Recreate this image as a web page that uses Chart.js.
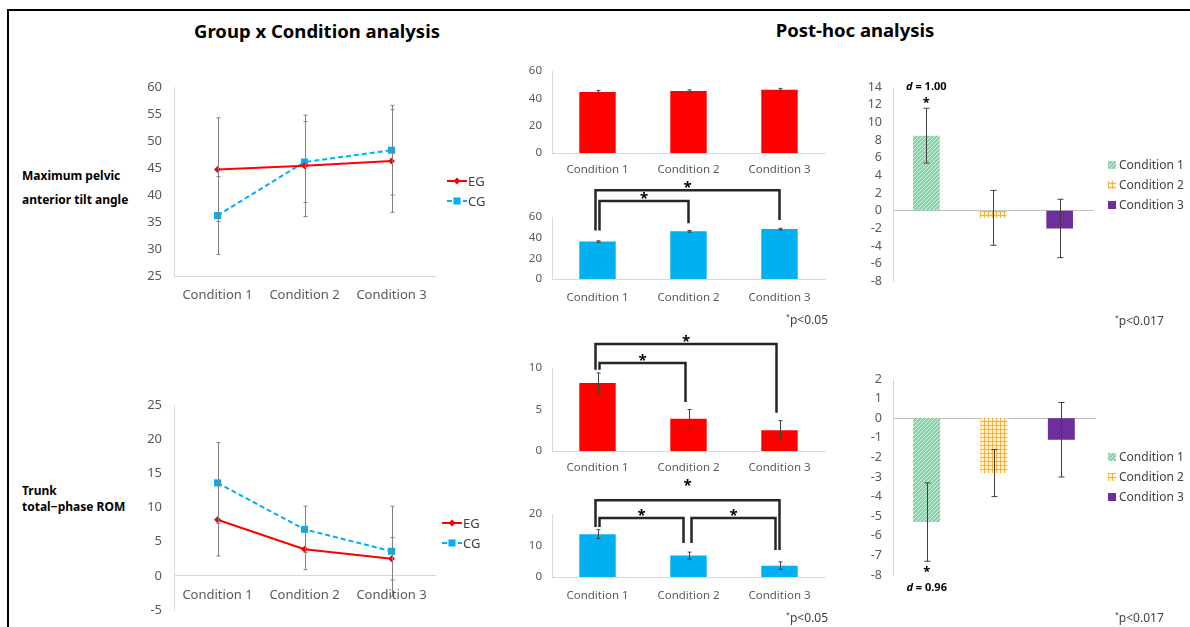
<!DOCTYPE html>
<html>
<head>
<meta charset="utf-8">
<script src="https://cdn.jsdelivr.net/npm/chart.js@4.4.0/dist/chart.umd.min.js"></script>
<style>
  body { margin: 0; background: #fff; width: 1190px; height: 627px; overflow: hidden; position: relative; font-family: "Noto Sans", sans-serif; }
  .frame { position: absolute; left: 7px; top: 9px; width: 1300px; height: 700px; border-left: 2px solid #000; border-top: 2px solid #000; }
  .title { position: absolute; font-weight: bold; font-size: 18.5px; line-height: 22px; color: #000; transform: translateX(-50%); white-space: nowrap; }
  .rowlab { position: absolute; left: 22px; font-weight: bold; font-size: 12px; color: #000; white-space: nowrap; }
  .note { position: absolute; font-size: 12px; line-height: 16px; color: #404040; white-space: nowrap; }
  .note sup { font-size: 7px; vertical-align: 5px; }
  canvas { position: absolute; }
</style>
</head>
<body>
<div class="frame"></div>
<div class="title" style="left:317px; top:20px;">Group x Condition analysis</div>
<div class="title" style="left:855px; top:19px;">Post-hoc analysis</div>

<div class="rowlab" style="top:164px; line-height:24px;">Maximum pelvic<br>anterior tilt angle</div>
<div class="rowlab" style="top:483px; line-height:16px;">Trunk<br>total−phase ROM</div>

<canvas id="pelvic-line" width="345" height="235" style="left:140px; top:75px;"></canvas>
<canvas id="trunk-line" width="345" height="225" style="left:140px; top:395px;"></canvas>

<canvas id="pelvic-eg" width="310" height="126" style="left:520px; top:60px;"></canvas>
<canvas id="pelvic-cg" width="310" height="139" style="left:520px; top:172px;"></canvas>
<canvas id="trunk-eg" width="310" height="156" style="left:520px; top:325px;"></canvas>
<canvas id="trunk-cg" width="310" height="141" style="left:520px; top:470px;"></canvas>

<canvas id="pelvic-diff" width="330" height="215" style="left:860px; top:75px;"></canvas>
<canvas id="trunk-diff" width="330" height="235" style="left:860px; top:365px;"></canvas>

<div class="note" style="right:362px; top:309px;"><sup>*</sup>p&lt;0.05</div>
<div class="note" style="right:362px; top:607px;"><sup>*</sup>p&lt;0.05</div>
<div class="note" style="left:1115px; top:310px;"><sup>*</sup>p&lt;0.017</div>
<div class="note" style="left:1115px; top:607px;"><sup>*</sup>p&lt;0.017</div>

<script>
// categories
const conditions = ['Condition 1', 'Condition 2', 'Condition 3'];

// maximum pelvic anterior tilt angle (mean, SD for line plot, SE for bar plots)
const pelvicEG = [44.7, 45.4, 46.3];
const pelvicCG = [36.2, 46.1, 48.3];
const pelvicEGsd = [9.6, 9.4, 9.5];
const pelvicCGsd = [7.2, 7.5, 8.3];
const pelvicEGse = [1.0, 0.8, 1.0];
const pelvicCGse = [0.8, 0.8, 0.8];

// trunk total-phase ROM
const trunkEG = [8.2, 3.9, 2.5];
const trunkCG = [13.6, 6.8, 3.6];
const trunkEGsd = [5.3, 3.0, 3.1];
const trunkCGsd = [5.9, 3.4, 6.6];
const trunkEGse = [1.2, 1.1, 1.15];
const trunkCGse = [1.4, 1.1, 1.2];

// EG - CG differences
const pelvicDiff = [8.5, -0.8, -2.0];
const pelvicDiffErr = [3.1, 3.1, 3.3];
const trunkDiff = [-5.3, -2.8, -1.1];
const trunkDiffErr = [2.0, 1.2, 1.9];

// effect sizes
const pelvicD = '1.00';
const trunkD = '0.96';

const red = '#ff0000';
const blue = '#00b0f0';
const tickColor = '#595959';
const axisColor = '#d9d9d9';
const font = '"Noto Sans", sans-serif';

// fill patterns for the difference charts
function makePattern(bg, fg, kind) {
    const c = document.createElement('canvas');
    c.width = 4; c.height = 4;
    const g = c.getContext('2d');
    g.fillStyle = bg;
    g.fillRect(0, 0, 4, 4);
    g.fillStyle = fg;
    if (kind === 'diag') {
        for (let i = 0; i < 4; i++) g.fillRect(i, 3 - i, 1, 1);
    } else if (kind === 'grid') {
        g.fillRect(0, 0, 4, 1);
        g.fillRect(0, 0, 1, 4);
    } else {
        g.fillRect(1, 1, 1, 1);
        g.fillRect(3, 3, 1, 1);
    }
    return g.createPattern(c, 'repeat');
}
const condFills = [
    makePattern('#7fd6a6', '#d9f4e5', 'diag'),
    makePattern('#fff3dc', '#f7b23b', 'grid'),
    makePattern('#7030a0', '#5a2185', 'dots')
];

// error bars drawn from each dataset's "errors" array
const errorBars = {
    id: 'errorBars',
    afterDatasetsDraw(chart) {
        const ctx = chart.ctx;
        const yScale = chart.scales.y;
        chart.data.datasets.forEach((ds, i) => {
            if (!ds.errors) return;
            const meta = chart.getDatasetMeta(i);
            ctx.save();
            ctx.strokeStyle = ds.errorColor || '#404040';
            ctx.lineWidth = ds.errorWidth || 1;
            meta.data.forEach((el, j) => {
                const v = ds.data[j], e = ds.errors[j];
                const top = yScale.getPixelForValue(v + e);
                const bot = yScale.getPixelForValue(v - e);
                const x = Math.round(el.x) + 0.5;
                const c = ds.capSize || 3;
                ctx.beginPath();
                ctx.moveTo(x, top); ctx.lineTo(x, bot);
                ctx.moveTo(x - c, top); ctx.lineTo(x + c, top);
                ctx.moveTo(x - c, bot); ctx.lineTo(x + c, bot);
                ctx.stroke();
            });
            ctx.restore();
        });
    }
};

// significance brackets (values in y-scale units)
const brackets = {
    id: 'brackets',
    afterDraw(chart, args, opts) {
        if (!opts.items) return;
        const ctx = chart.ctx, xs = chart.scales.x, ys = chart.scales.y;
        ctx.save();
        ctx.strokeStyle = '#262626';
        ctx.lineWidth = 2.5;
        ctx.fillStyle = '#000';
        ctx.font = 'bold 15px ' + font;
        ctx.textAlign = 'center';
        ctx.textBaseline = 'alphabetic';
        opts.items.forEach(b => {
            const x1 = xs.getPixelForValue(b.from) + (b.dx1 || 0);
            const x2 = xs.getPixelForValue(b.to) + (b.dx2 || 0);
            const yt = ys.getPixelForValue(b.top);
            ctx.beginPath();
            ctx.moveTo(x1, ys.getPixelForValue(b.leg1));
            ctx.lineTo(x1, yt);
            ctx.lineTo(x2, yt);
            ctx.lineTo(x2, ys.getPixelForValue(b.leg2));
            ctx.stroke();
            ctx.fillText('*', (x1 + x2) / 2, yt + 2 - (b.starDy || 0));
        });
        ctx.restore();
    }
};

// legend for line charts: sample line + marker + label
const lineLegend = {
    id: 'lineLegend',
    afterDraw(chart, args, opts) {
        if (!opts.display) return;
        const ctx = chart.ctx;
        chart.data.datasets.forEach((ds, i) => {
            const y = opts.y + i * opts.gap;
            const x = opts.x;
            ctx.save();
            ctx.strokeStyle = ds.borderColor;
            ctx.lineWidth = 2;
            ctx.setLineDash(ds.borderDash || []);
            ctx.beginPath();
            ctx.moveTo(x, y); ctx.lineTo(x + 20, y);
            ctx.stroke();
            ctx.setLineDash([]);
            ctx.fillStyle = ds.backgroundColor;
            Chart.helpers.drawPoint(ctx, { pointStyle: ds.pointStyle, radius: ds.pointRadius, borderWidth: 0 }, x + 10, y);
            ctx.fillStyle = '#404040';
            ctx.font = '13px ' + font;
            ctx.textBaseline = 'middle';
            ctx.fillText(ds.label, x + 21, y + 1);
            ctx.restore();
        });
    }
};

// legend for difference charts: one entry per condition
const condLegend = {
    id: 'condLegend',
    afterDraw(chart, args, opts) {
        if (!opts.display) return;
        const ctx = chart.ctx;
        const ds = chart.data.datasets[0];
        chart.data.labels.forEach((lab, i) => {
            const y = opts.y + i * opts.gap;
            ctx.save();
            ctx.fillStyle = ds.backgroundColor[i];
            ctx.fillRect(opts.x, y - 4, 8, 8);
            ctx.fillStyle = '#404040';
            ctx.font = '12px ' + font;
            ctx.textBaseline = 'middle';
            ctx.fillText(lab, opts.x + 11, y + 1);
            ctx.restore();
        });
    }
};

// effect size annotation above / below one bar
const effectLabel = {
    id: 'effectLabel',
    afterDraw(chart, args, opts) {
        if (!opts.text) return;
        const ctx = chart.ctx;
        const ds = chart.data.datasets[0];
        const el = chart.getDatasetMeta(0).data[opts.index];
        const v = ds.data[opts.index], e = ds.errors[opts.index];
        const ys = chart.scales.y;
        const down = v < 0;
        const edge = ys.getPixelForValue(down ? v - e : v + e);
        const starY = down ? edge + 15 : edge - 1;
        const textY = down ? edge + 27 : edge - 21;
        ctx.save();
        ctx.fillStyle = '#000';
        ctx.textAlign = 'center';
        ctx.font = 'bold 13px ' + font;
        ctx.textBaseline = 'alphabetic';
        ctx.fillText('*', el.x, starY);
        ctx.font = 'italic bold 11px ' + font;
        const dW = ctx.measureText('d').width;
        ctx.font = 'bold 11px ' + font;
        const rest = ' = ' + opts.text;
        const rW = ctx.measureText(rest).width;
        const x0 = el.x - (dW + rW) / 2;
        ctx.textAlign = 'left';
        ctx.textBaseline = 'middle';
        ctx.font = 'italic bold 11px ' + font;
        ctx.fillText('d', x0, textY);
        ctx.font = 'bold 11px ' + font;
        ctx.fillText(rest, x0 + dW, textY);
        ctx.restore();
    }
};

function fixWidth(w) { return scale => { scale.width = w; }; }
function fixHeight(h) { return scale => { scale.height = h; }; }

// y axis: gap between labels and axis line comes from tickLength so it does not pad the chart area
function yAxis(min, max, step, size, gap, width) {
    return {
        min: min, max: max,
        grid: { display: false, drawTicks: true, tickLength: gap },
        border: { color: axisColor },
        ticks: { stepSize: step, autoSkip: false, color: tickColor, font: { size: size, family: font }, padding: 1 },
        afterFit: fixWidth(width)
    };
}

function lineOptions(min, max, step, xAtZero, legend, pad) {
    return {
        responsive: false,
        animation: false,
        layout: { padding: pad },
        plugins: { legend: { display: false }, tooltip: { enabled: false }, lineLegend: legend },
        scales: {
            x: {
                offset: true,
                position: xAtZero ? { y: 0 } : 'bottom',
                grid: { display: false, drawTicks: false },
                border: { color: axisColor },
                ticks: { color: tickColor, font: { size: 13, family: font }, padding: xAtZero ? 12 : 11 },
                afterFit: xAtZero ? undefined : fixHeight(34)
            },
            y: yAxis(min, max, step, 13, 11, 34)
        }
    };
}

function groupBarOptions(max, step, pad, xHeight, xPad, bracketItems) {
    return {
        responsive: false,
        animation: false,
        layout: { padding: pad },
        plugins: { legend: { display: false }, tooltip: { enabled: false }, brackets: { items: bracketItems } },
        scales: {
            x: {
                grid: { display: false, drawTicks: false },
                border: { color: axisColor },
                ticks: { color: tickColor, font: { size: 11.5, family: font }, padding: xPad },
                afterFit: fixHeight(xHeight)
            },
            y: yAxis(0, max, step, 11.5, 9, 32)
        }
    };
}

function diffOptions(min, max, step, pad, legendY, effect) {
    return {
        responsive: false,
        animation: false,
        layout: { padding: pad },
        plugins: {
            legend: { display: false }, tooltip: { enabled: false },
            condLegend: { display: true, x: 248, y: legendY, gap: 20 },
            effectLabel: effect
        },
        scales: {
            x: {
                position: { y: 0 },
                grid: { display: false, drawTicks: false },
                border: { color: '#bfbfbf' },
                ticks: { display: false }
            },
            y: yAxis(min, max, step, 12.5, 10, 33)
        }
    };
}

Chart.register(errorBars, brackets, lineLegend, condLegend, effectLabel);

function lineSets(eg, egErr, cg, cgErr) {
    return [
        { label: 'EG', data: eg, errors: egErr, borderColor: red, backgroundColor: red, borderWidth: 2,
          pointStyle: 'rectRot', pointRadius: 3.5, pointBorderWidth: 0, errorColor: '#808080', capSize: 2 },
        { label: 'CG', data: cg, errors: cgErr, borderColor: blue, backgroundColor: blue, borderWidth: 2,
          borderDash: [5, 3], pointStyle: 'rect', pointRadius: 5, pointBorderWidth: 0, errorColor: '#808080', capSize: 2 }
    ];
}

let pelvicLine = new Chart(document.getElementById('pelvic-line'), {
    type: 'line',
    data: { labels: conditions, datasets: lineSets(pelvicEG, pelvicEGsd, pelvicCG, pelvicCGsd) },
    options: lineOptions(25, 60, 5, false, { display: true, x: 307, y: 106, gap: 20 },
        { top: 12, right: 50, left: 0, bottom: 0 })
});

let trunkLine = new Chart(document.getElementById('trunk-line'), {
    type: 'line',
    data: { labels: conditions, datasets: lineSets(trunkEG, trunkEGsd, trunkCG, trunkCGsd) },
    options: lineOptions(-5, 25, 5, true, { display: true, x: 302, y: 128, gap: 20 },
        { top: 10, right: 50, left: 0, bottom: 10 })
});

function groupBar(id, values, errs, color, opts) {
    return new Chart(document.getElementById(id), {
        type: 'bar',
        data: { labels: conditions, datasets: [{
            data: values, errors: errs, backgroundColor: color,
            barPercentage: 0.4, categoryPercentage: 1, errorColor: '#404040', capSize: 2
        }] },
        options: opts
    });
}

groupBar('pelvic-eg', pelvicEG, pelvicEGse, red,
    groupBarOptions(60, 20, { top: 11, right: 5, bottom: 6 }, 27, 9.5, null));
groupBar('pelvic-cg', pelvicCG, pelvicCGse, blue,
    groupBarOptions(60, 20, { top: 45, right: 5, bottom: 6 }, 26, 11.5, [
        { from: 0, to: 2, top: 86, leg1: 47, leg2: 57, dx1: -2 },
        { from: 0, to: 1, top: 75.5, leg1: 47, leg2: 54, dx1: 2 }
    ]));
groupBar('trunk-eg', trunkEG, trunkEGse, red,
    groupBarOptions(10, 5, { top: 43, right: 5, bottom: 6 }, 24, 9.5, [
        { from: 0, to: 2, top: 12.9, leg1: 9.8, leg2: 4.6, dx1: -2, dx2: -3 },
        { from: 0, to: 1, top: 10.6, leg1: 9.8, leg2: 5.9, dx1: 2, dx2: -3 }
    ]));
groupBar('trunk-cg', trunkCG, trunkCGse, blue,
    groupBarOptions(20, 10, { top: 44, right: 5, bottom: 6 }, 28, 11.5, [
        { from: 0, to: 2, top: 24.4, leg1: 15.9, leg2: 8.6, dx1: -2, starDy: 12.5 },
        { from: 0, to: 1, top: 18.7, leg1: 15.9, leg2: 10.8, dx1: 2, dx2: -5 },
        { from: 1, to: 2, top: 18.7, leg1: 10.8, leg2: 8.6, dx1: 3, dx2: -4 }
    ]));

function diffBar(id, values, errs, opts) {
    return new Chart(document.getElementById(id), {
        type: 'bar',
        data: { labels: conditions, datasets: [{
            data: values, errors: errs, backgroundColor: condFills,
            barPercentage: 0.4, categoryPercentage: 1, errorColor: '#404040', capSize: 3
        }] },
        options: opts
    });
}

diffBar('pelvic-diff', pelvicDiff, pelvicDiffErr,
    diffOptions(-8, 14, 2, { top: 12, right: 97, bottom: 7 }, 90, { index: 0, text: pelvicD }));
diffBar('trunk-diff', trunkDiff, trunkDiffErr,
    diffOptions(-8, 2, 1, { top: 14, right: 95, bottom: 25 }, 92, { index: 0, text: trunkD }));
</script>
</body>
</html>
